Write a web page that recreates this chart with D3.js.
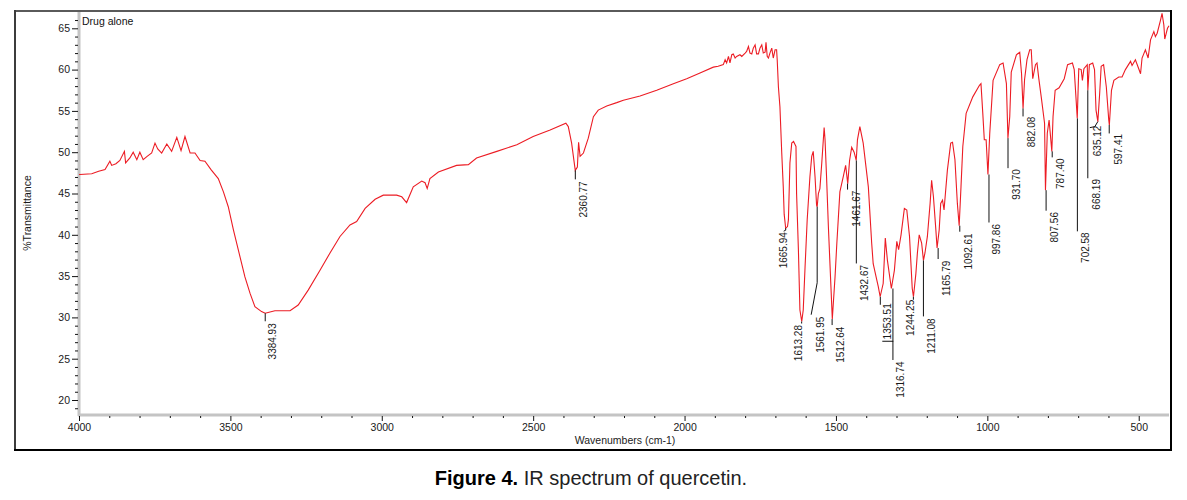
<!DOCTYPE html>
<html><head><meta charset="utf-8">
<script src="https://cdn.jsdelivr.net/npm/d3@7/dist/d3.min.js"></script>
<style>
html,body{margin:0;padding:0;background:#fff;}
svg{display:block;font-family:"Liberation Sans",Arial,sans-serif;}
</style></head>
<body>
<svg id="chart" width="1187" height="500"></svg>
<script>
// ---------------- DATA ----------------
const wavenumbers = [4000,3997,3958,3935,3914,3898,3892,3878,3865,3850,3846,3832,3821,3809,3799,3788,3775,3760,3749,3740,3727,3710,3694,3677,3663,3650,3633,3617,3600,3584,3564,3540,3523,3507,3490,3468,3452,3435,3419,3397,3385,3353,3303,3276,3243,3204,3171,3138,3105,3083,3055,3022,2995,2951,2934,2918,2896,2868,2857,2850,2841,2813,2753,2714,2687,2620,2554,2500,2444,2392,2384,2373,2361,2354,2350,2345,2334,2318,2301,2285,2257,2224,2202,2147,2092,2037,1993,1949,1905,1889,1872,1866,1861,1855,1850,1844,1839,1833,1828,1817,1811,1800,1795,1789,1784,1778,1773,1767,1762,1756,1751,1745,1740,1734,1731,1727,1723,1718,1712,1707,1701,1696,1694,1690,1685,1679,1674,1671,1666,1660,1657,1652,1646,1640,1636,1632,1630,1624,1619,1613,1608,1602,1595,1586,1580,1575,1569,1564,1562,1558,1553,1547,1539,1536,1531,1525,1517,1512,1503,1497,1487,1476,1468,1461,1455,1448,1440,1433,1429,1421,1410,1393,1382,1377,1365,1360,1354,1344,1337,1330,1317,1307,1299,1293,1285,1274,1266,1257,1248,1244,1236,1231,1225,1217,1211,1206,1198,1189,1184,1178,1170,1166,1159,1154,1148,1143,1132,1121,1115,1107,1099,1093,1087,1081,1070,1048,1026,1021,1015,1010,1004,998,992,981,959,948,937,932,926,921,904,893,887,882,877,869,860,855,850,841,836,830,822,811,808,802,796,787,783,776,763,746,735,719,713,703,698,690,686,681,670,668,663,652,646,641,635,629,624,616,607,599,597,590,582,566,555,544,527,522,511,500,494,489,478,469,461,450,445,439,428,423,417,414,405,400];
const transmittance = [47.3,47.3,47.4,47.7,47.9,48.9,48.4,48.6,49.0,50.1,48.7,49.3,50.0,49.1,50.0,49.1,49.5,49.9,51.1,50.4,49.9,51.0,50.1,51.8,50.2,51.9,49.9,49.9,49.0,48.9,47.9,46.8,45.2,43.4,40.6,37.3,34.9,32.9,31.3,30.7,30.5,30.8,30.8,31.5,33.3,35.7,37.8,39.8,41.2,41.6,43.2,44.3,44.8,44.8,44.6,43.9,45.8,46.5,46.3,45.6,46.8,47.6,48.4,48.5,49.3,50.1,50.9,51.9,52.7,53.5,53.1,51.1,47.8,48.2,51.2,49.5,49.9,51.7,54.3,55.1,55.6,56.0,56.3,56.8,57.5,58.3,58.9,59.6,60.3,60.4,60.6,61.2,60.8,61.6,60.8,61.8,61.9,61.4,61.6,61.8,61.6,62.0,62.2,62.8,62.0,61.9,62.6,63.0,61.9,61.9,62.6,63.0,62.0,62.1,63.3,61.6,61.4,62.0,62.6,61.4,62.4,62.4,61.2,57.9,55.5,49.9,45.8,42.5,40.8,41.0,41.8,48.7,51.1,51.3,51.0,50.7,45.0,38.2,30.9,29.5,30.9,36.1,41.8,47.0,49.5,50.1,47.0,43.6,43.4,45.0,45.6,48.6,53.0,51.5,47.0,41.0,34.1,29.8,34.9,39.0,45.2,47.0,48.4,46.2,49.0,50.6,50.0,49.0,51.5,53.1,51.1,45.8,39.0,36.5,34.5,33.7,32.5,34.1,39.6,36.9,33.5,35.7,39.2,38.2,40.0,43.2,43.0,39.8,33.5,32.5,35.3,37.8,40.0,39.0,36.9,37.8,39.8,43.8,46.6,44.6,40.6,38.4,40.6,43.8,44.2,43.0,47.8,51.1,51.2,49.1,43.8,41.1,45.8,50.7,54.7,56.7,58.1,58.3,54.7,51.5,51.5,47.3,52.3,58.7,60.6,60.8,58.3,51.7,54.3,59.7,61.8,62.1,59.5,55.3,58.8,61.2,62.4,62.4,58.9,60.6,60.8,58.9,56.7,53.5,45.4,52.3,53.9,50.1,54.3,57.5,57.8,58.9,60.6,60.8,60.0,54.1,60.1,60.0,58.7,60.1,60.6,57.5,60.6,60.8,60.0,55.1,53.7,57.1,60.4,60.6,57.9,53.9,53.3,57.5,58.7,59.1,59.1,60.0,61.0,60.5,61.2,60.1,59.5,61.4,62.4,61.4,63.6,64.6,64.0,64.4,66.0,66.8,65.4,63.7,65.0,65.3];

const peakWavenumbers = [3384.93,2360.77,1665.94,1613.28,1561.95,1512.64,1461.67,1432.67,1353.51,1316.74,1244.25,1211.08,1165.79,1092.61,997.86,931.70,882.08,807.56,787.40,702.58,668.19,635.12,597.41];
const peakTransmittance = [30.5,47.8,40.8,29.5,43.4,29.8,46.2,49.0,32.5,33.5,32.5,36.9,38.4,41.1,47.3,51.7,55.3,45.4,50.1,54.1,57.5,53.7,53.3];

const xMajorTicks = [4000,3500,3000,2500,2000,1500,1000,500];
const yMajorTicks = [20,25,30,35,40,45,50,55,60,65];

const chartLabel = "Drug alone";
const xTitle = "Wavenumbers (cm-1)";
const yTitle = "%Transmittance";
const captionBold = "Figure 4.";
const captionRest = " IR spectrum of quercetin.";

// ---------------- LAYOUT (label leader geometry, px) ----------------
// lead: leader polyline relative to the peak point; tdx: text centre offset; ttop: text top offset
const peakLayout = [
  {lead:[[0,0],[0,8]], tdx:7.3, ttop:10},
  {lead:[[0,0],[0,9]], tdx:7.6, ttop:11},
  {lead:[[0,0],[0,2],[-2,3]], tdx:-2.4, ttop:4},
  {lead:[[0,0],[0,2]], tdx:-3.4, ttop:3.5},
  {lead:[[0,0],[0,76],[-6,108]], tdx:2.8, ttop:110},
  {lead:[[0,0],[0,6]], tdx:8.6, ttop:7.6},
  {lead:[[0,0],[0,6]], tdx:8.4, ttop:7},
  {lead:[[0,0],[0,103]], tdx:7.7, ttop:104.5},
  {lead:[[0,0],[0,8]], tdx:7, ttop:6.5, extra:[[2,44.5],[13,44.5]]},
  {lead:[[1.5,0],[1.5,71.5]], tdx:9.3, ttop:73},
  {lead:[[0,0],[0,3]], tdx:-3.4, ttop:3},
  {lead:[[0,0],[0,56]], tdx:8.1, ttop:58},
  {lead:[[1,0],[1,11]], tdx:9.6, ttop:12.7},
  {lead:[[0.5,0],[0.5,6]], tdx:9, ttop:7.6},
  {lead:[[1,0],[1,48]], tdx:8.7, ttop:49.5},
  {lead:[[0,0],[0,30]], tdx:8.6, ttop:31},
  {lead:[[0,0],[0,8]], tdx:8.6, ttop:8.3},
  {lead:[[0.5,0],[0.5,20.5]], tdx:9.3, ttop:21.8},
  {lead:[[0.5,0],[0.5,6]], tdx:8.2, ttop:7},
  {lead:[[0,0],[0,113]], tdx:8.5, ttop:114},
  {lead:[[0,0],[0,88]], tdx:8.8, ttop:88.8},
  {lead:[[0,0],[-3,5],[-8,6]], tdx:-0.2, ttop:4},
  {lead:[[0,0],[0,8.5]], tdx:8.8, ttop:9}
];

// ---------------- CHART ----------------
const svg = d3.select("#chart");
const plotL = 79, plotR = 1169, plotT = 11, plotB = 415;

const x = d3.scaleLinear().domain([4000, 400]).range([plotL, plotR]);
const y = d3.scaleLinear().domain([20, 65]).range([400, 28.3]);

// frame
svg.append("rect").attr("x",0).attr("y",0).attr("width",1187).attr("height",500).attr("fill","#fff");
svg.append("line").attr("x1",14).attr("x2",1171).attr("y1",11).attr("y2",11).attr("stroke","#5a5a5a").attr("stroke-width",2);
svg.append("line").attr("x1",15).attr("x2",15).attr("y1",10).attr("y2",451).attr("stroke","#3c3c3c").attr("stroke-width",2);
svg.append("line").attr("x1",14).attr("x2",1172).attr("y1",450).attr("y2",450).attr("stroke","#000").attr("stroke-width",2);
svg.append("line").attr("x1",1171).attr("x2",1171).attr("y1",10).attr("y2",451).attr("stroke","#000").attr("stroke-width",2);

// axis bands
svg.append("line").attr("x1",plotL).attr("x2",plotL).attr("y1",plotT+1).attr("y2",plotB+1).attr("stroke","#c4c4c4").attr("stroke-width",3);
svg.append("line").attr("x1",plotL-1).attr("x2",plotR).attr("y1",plotB).attr("y2",plotB).attr("stroke","#c4c4c4").attr("stroke-width",3);

// y axis ticks
const yMinor = d3.range(19, 67).filter(v => v % 5 !== 0);
const yAxisMajor = d3.axisLeft(y).tickValues(yMajorTicks).tickSize(6).tickPadding(2).tickFormat(d3.format("d"));
const yAxisMinor = d3.axisLeft(y).tickValues(yMinor).tickSize(3).tickFormat("");
const gyMin = svg.append("g").attr("transform",`translate(${plotL-1},0)`).call(yAxisMinor);
const gy = svg.append("g").attr("transform",`translate(${plotL-1},0)`).call(yAxisMajor);
[gy, gyMin].forEach(g => { g.select(".domain").remove(); g.selectAll("line").attr("stroke","#111"); });
gy.selectAll("text").attr("font-size","10.5px").attr("fill","#1a1a1a").attr("font-family","Liberation Sans, Arial, sans-serif");

// x axis ticks
const xMinor = d3.range(3900, 400, -100).filter(v => v % 500 !== 0);
const xAxisMajor = d3.axisBottom(x).tickValues(xMajorTicks).tickSize(5).tickPadding(3).tickFormat(d3.format("d"));
const xAxisMinor = d3.axisBottom(x).tickValues(xMinor).tickSize(2).tickFormat("");
const gxMin = svg.append("g").attr("transform",`translate(0,${plotB+1})`).call(xAxisMinor);
const gx = svg.append("g").attr("transform",`translate(0,${plotB+1})`).call(xAxisMajor);
[gx, gxMin].forEach(g => { g.select(".domain").remove(); g.selectAll("line").attr("stroke","#111"); });
gx.selectAll("text").attr("font-size","10.5px").attr("fill","#1a1a1a").attr("font-family","Liberation Sans, Arial, sans-serif");

// axis titles
svg.append("text").attr("transform","translate(31,213) rotate(-90)").attr("text-anchor","middle")
  .attr("font-size","10.5px").attr("fill","#1a1a1a").text(yTitle);
svg.append("text").attr("x",625).attr("y",444).attr("text-anchor","middle")
  .attr("font-size","10.5px").attr("fill","#1a1a1a").text(xTitle);

// chart label
svg.append("text").attr("x",82).attr("y",25).attr("font-size","10.5px").attr("fill","#111").text(chartLabel);

// spectrum
const spectrum = wavenumbers.map((w,i) => [w, transmittance[i]]);
const line = d3.line().x(d => x(d[0])).y(d => y(d[1]));
svg.append("path").datum(spectrum).attr("d", line).attr("fill","none")
  .attr("stroke","#ec1c24").attr("stroke-width",1.1).attr("stroke-linejoin","miter");

// peak labels
const leadLine = d3.line();
const peaks = peakWavenumbers.map((w,i) => ({w, t: peakTransmittance[i], lay: peakLayout[i]}));
const gp = svg.append("g");
peaks.forEach(p => {
  const px = x(p.w), py = y(p.t);
  gp.append("path").attr("d", leadLine(p.lay.lead.map(q => [px+q[0], py+q[1]])))
    .attr("fill","none").attr("stroke","#111").attr("stroke-width",1);
  if (p.lay.extra) {
    gp.append("path").attr("d", leadLine(p.lay.extra.map(q => [px+q[0], py+q[1]])))
      .attr("fill","none").attr("stroke","#111").attr("stroke-width",1);
  }
  gp.append("text")
    .attr("transform", `translate(${px + p.lay.tdx + 3.6},${py + p.lay.ttop}) rotate(-90)`)
    .attr("text-anchor","end").attr("font-size","10px").attr("fill","#1a1a1a")
    .text(p.w.toFixed(2));
});

// caption
const cap = svg.append("text").attr("x",591).attr("y",485).attr("text-anchor","middle")
  .attr("font-size","20px").attr("fill","#222");
cap.append("tspan").attr("font-weight","bold").attr("fill","#000").text(captionBold);
cap.append("tspan").text(captionRest);
</script>
</body></html>
